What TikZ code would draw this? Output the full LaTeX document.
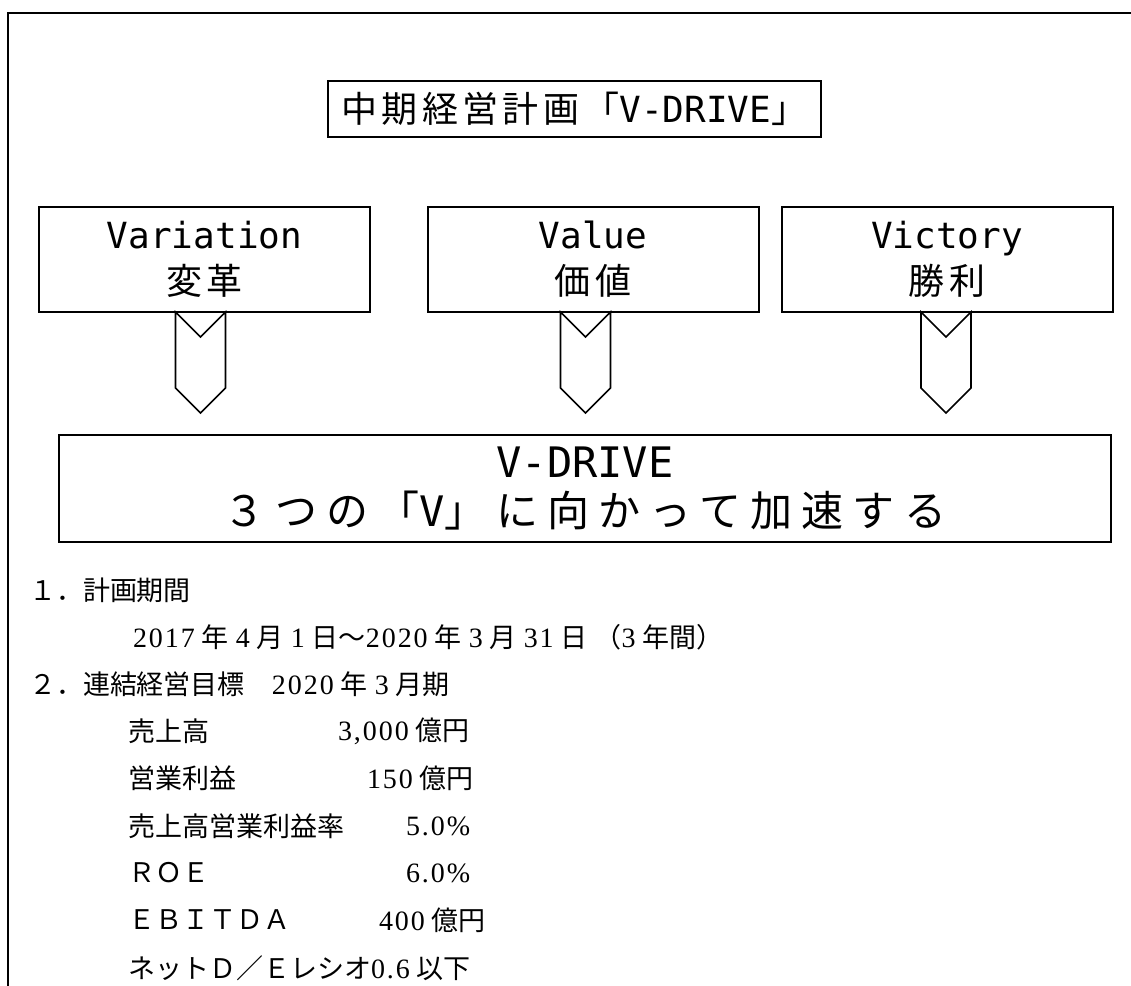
\documentclass[tikz,border=0pt]{standalone}
\usepackage{fontspec}
\usepackage{tikz}
\newfontfamily\jp{Noto Sans CJK JP}
\newfontfamily\jpwide[LetterSpace=12]{Noto Sans CJK JP}
\newfontfamily\jpmotto[LetterSpace=22]{Noto Sans CJK JP}
\newfontfamily\mono{DejaVu Sans Mono}
\newfontfamily\serifnum[LetterSpace=7]{Liberation Serif}
\newcommand{\dg}[1]{{\fontsize{14}{16}\selectfont\serifnum #1}}
\newcommand{\ks}{\kern3.5pt}

\begin{document}
\begin{tikzpicture}[x=0.5pt, y=-0.5pt,
    every node/.style={outer sep=0pt},
    titlebox/.style={draw, line width=0.85pt, minimum width=246.5pt, minimum height=28pt, font=\fontsize{18}{22}\selectfont},
    vbox/.style={draw, line width=1pt, minimum width=165.5pt, minimum height=52.5pt, align=center, font=\fontsize{18}{23}\selectfont},
    drivebox/.style={draw, line width=1pt, minimum width=526pt, minimum height=53.5pt, align=center, font=\fontsize{21}{24.5}\selectfont},
    chev/.style={draw, line width=0.8pt, line join=miter},
    item/.style={anchor=west, inner sep=0pt, font=\fontsize{13.5}{16}\selectfont\jp}]
      \useasboundingbox (0,0) rectangle (1131,986);
      \draw[line width=1.3pt] (8,990) -- (8,13) -- (1135,13);

      \node[titlebox] (plan) at (574.5, 109) {\jpwide 中期経営計画「{\mono V-DRIVE}」};

      \node[vbox] (var) at (204.5, 259.5) {{\mono Variation}\\{\jpwide 変革}};
      \node[vbox] (val) at (593, 259.5) {{\mono Value}\\{\jpwide 価値}};
      \node[vbox] (vic) at (947, 259.5) {{\mono Victory}\\{\jpwide 勝利}};

      \node[drivebox] (drive) at (585, 488.5) {{\mono V-DRIVE}\\{\jpmotto ３つの「{\mono V}」に向かって加速する}};

      \foreach \b/\dx in {var/-4, val/-7.5, vic/-1}
        \draw[chev] ([xshift=(\dx-25)*0.5pt]\b.south) -- ++(25,25) -- ++(25,-25) -- ++(0,76) -- ++(-25,25) -- ++(-25,-25) -- cycle;

      \node[item] (p1) at (29, 590) {１．計画期間};
      \node[item] (p1a) at (133, 637) {\dg{2017}\ks 年\ks\dg{4}\ks 月\ks\dg{1}\ks 日～\dg{2020}\ks 年\ks\dg{3}\ks 月\ks\dg{31}\ks 日\ks（\dg{3}\ks 年間）};
      \node[item] (p2) at (29, 684) {２．連結経営目標　\dg{2020}\ks 年\ks\dg{3}\ks 月期};
      \node[item] (k1) at (128, 731) {売上高};
      \node[item] (k1v) at (338, 731) {\dg{3,000}\ks 億円};
      \node[item] (k2) at (128, 778) {営業利益};
      \node[item] (k2v) at (367, 778) {\dg{150}\ks 億円};
      \node[item] (k3) at (128, 826) {売上高営業利益率};
      \node[item] (k3v) at (406, 826) {\dg{5.0\%}};
      \node[item] (k4) at (128, 873) {ＲＯＥ};
      \node[item] (k4v) at (406, 873) {\dg{6.0\%}};
      \node[item] (k5) at (128, 920) {ＥＢＩＴＤＡ};
      \node[item] (k5v) at (379, 920) {\dg{400}\ks 億円};
      \node[item] (k6) at (128, 968) {ネットＤ／Ｅレシオ\dg{0.6}\ks 以下};
    \end{tikzpicture}
\end{document}
